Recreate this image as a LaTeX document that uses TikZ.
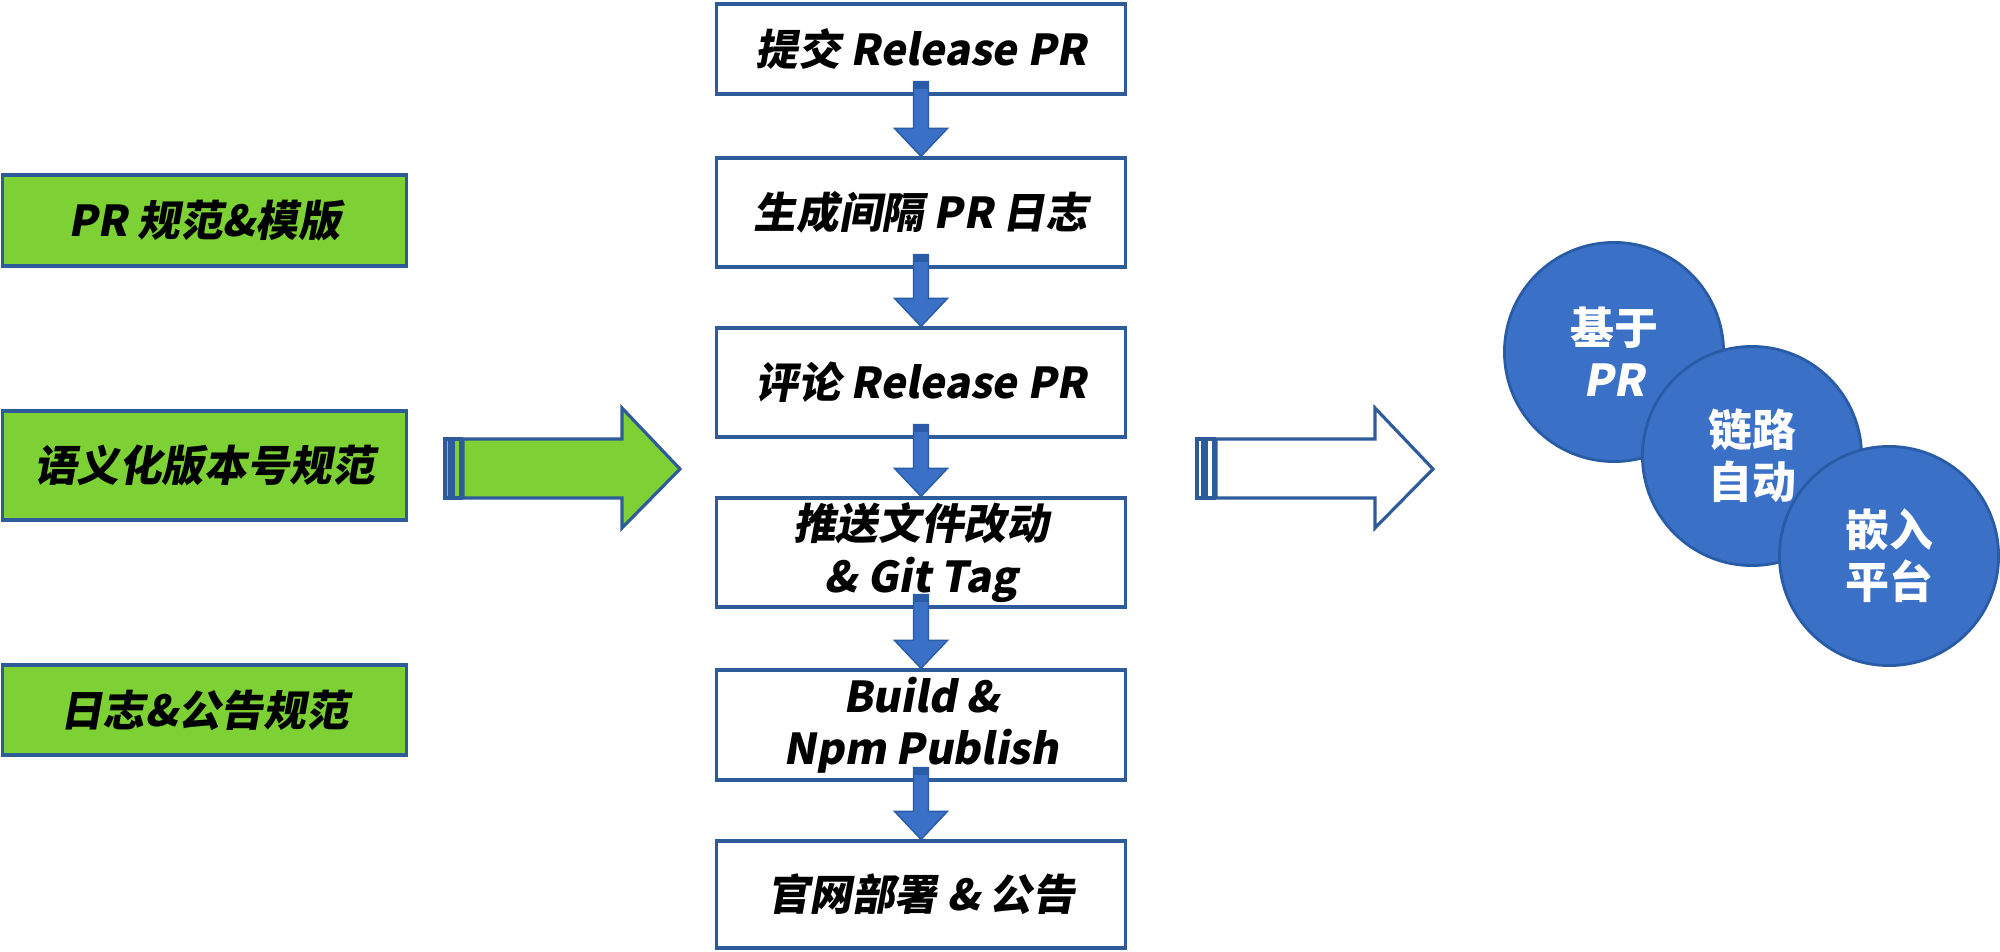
\documentclass[tikz,border=0pt]{standalone}
\usepackage{fontspec}
\usetikzlibrary{calc}
\newfontfamily\cjkit{Noto Sans CJK SC}[FakeSlant=0.18]
\newfontfamily\cjkup{Noto Sans CJK SC}
\definecolor{gfill}{HTML}{7DD134}
\definecolor{bline}{HTML}{2E5C9A}
\definecolor{afill}{HTML}{3A70C6}
\definecolor{adark}{HTML}{2A5BA6}
\newcommand{\flowarrow}[2]{%
  \draw[fill=afill,draw=adark,line width=0.4pt]
    ($(#1.south)+(-7.5,-14)$) -- ($(#2.north)+(-7.5,-28)$) -- ($(#2.north)+(-26.5,-28)$)
    -- (#2.north) -- ($(#2.north)+(26.5,-28)$) -- ($(#2.north)+(7.5,-28)$)
    -- ($(#1.south)+(7.5,-14)$) -- cycle;
  \fill[adark] ($(#1.south)+(-7.5,-14)$) rectangle ($(#1.south)+(7.5,-7)$);
}
\begin{document}
\begin{tikzpicture}[x=0.01cm,y=-0.01cm,
  boxfont/.style={font=\cjkit\bfseries\fontsize{12.1}{14.9}\selectfont},
  greenbox/.style={draw=bline,line width=0.9pt,fill=gfill,minimum width=4.03cm,inner sep=0pt,align=center,boxfont},
  flowbox/.style={draw=bline,line width=0.9pt,fill=white,minimum width=4.08cm,inner sep=0pt,align=center,boxfont},
  ball/.style={circle,draw=adark,line width=0.8pt,fill=afill,minimum size=2.19cm,inner sep=0pt,text=white,align=center,font=\cjkup\bfseries\fontsize{12.5}{14.8}\selectfont},
  bigarrow/.style={draw=bline,line width=0.9pt}]
\useasboundingbox (0,0) rectangle (2000,952);

% left green boxes
\node[greenbox,minimum height=0.91cm] (g1) at (204.5,220.5) {PR 规范\&模版};
\node[greenbox,minimum height=1.09cm] (g2) at (204.5,465.5) {语义化版本号规范};
\node[greenbox,minimum height=0.90cm] (g3) at (204.5,710) {日志\&公告规范};

% centre flow boxes
\node[flowbox,minimum height=0.90cm] (b1) at (921,49) {提交 Release PR};
\node[flowbox,minimum height=1.09cm] (b2) at (921,212.5) {生成间隔 PR 日志};
\node[flowbox,minimum height=1.09cm] (b3) at (921,382.5) {评论 Release PR};
\node[flowbox,minimum height=1.09cm] (b4) at (921,552.5) {推送文件改动\\\& Git Tag};
\node[flowbox,minimum height=1.10cm] (b5) at (921,725) {Build \&\\Npm Publish};
\node[flowbox,minimum height=1.07cm] (b6) at (921,894.5) {官网部署 \& 公告};

\flowarrow{b1}{b2}
\flowarrow{b2}{b3}
\flowarrow{b3}{b4}
\flowarrow{b4}{b5}
\flowarrow{b5}{b6}

% big green arrow
\draw[bigarrow,fill=gfill] (463,439) -- (622,439) -- (622,408) -- (680,469) -- (622,528) -- (622,498) -- (463,498) -- cycle;
\draw[bigarrow,fill=gfill] (453,439) rectangle (461,498);
\draw[bigarrow,fill=gfill] (445,439) rectangle (450,498);

% big white arrow
\draw[bigarrow,fill=white] (1216,439) -- (1375,439) -- (1375,408) -- (1433,469) -- (1375,528) -- (1375,498) -- (1216,498) -- cycle;
\draw[bigarrow,fill=white] (1206,439) rectangle (1214,498);
\draw[bigarrow,fill=white] (1197,439) rectangle (1203,498);

% circles
\node[ball] (c1) at (1614,352) {基于\\{\cjkit PR}};
\node[ball] (c2) at (1752,456) {链路\\自动};
\node[ball] (c3) at (1889,556) {嵌入\\平台};
\end{tikzpicture}
\end{document}
